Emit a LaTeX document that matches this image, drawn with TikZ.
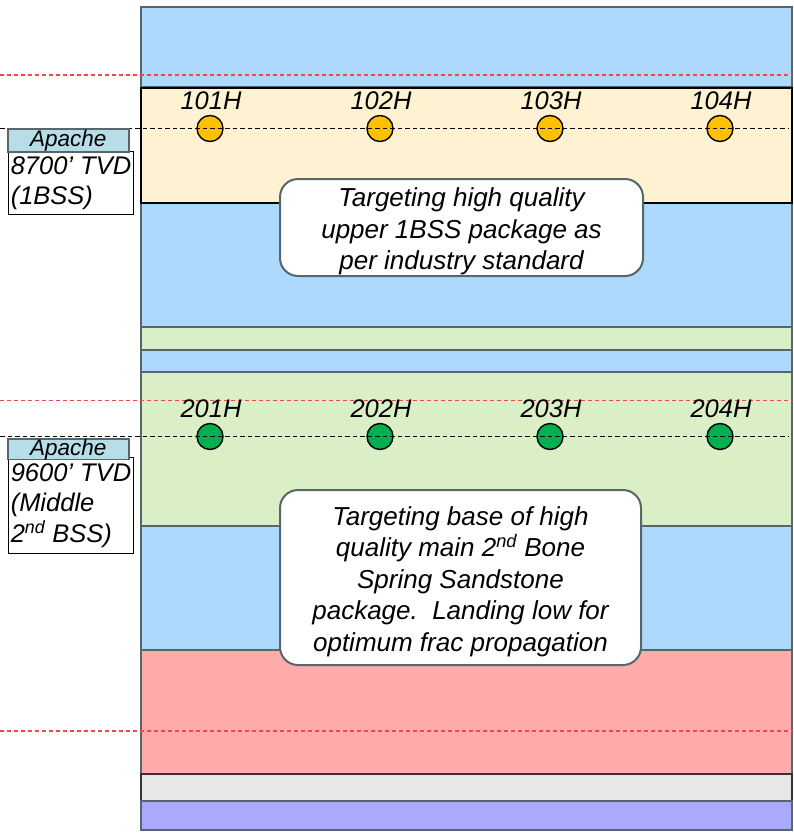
\documentclass[tikz,border=0pt]{standalone}
\usepackage{fontspec}
\setmainfont{Liberation Sans}
\begin{document}
\begin{tikzpicture}[x=1pt,y=-1pt,
  band/.style={draw=bordc, line width=2pt},
  reddash/.style={draw=redd, line width=1.3pt, dash pattern=on 4pt off 3pt},
  blackdash/.style={draw=black, line width=1.2pt, dash pattern=on 4.5pt off 3pt},
  well/.style={circle, draw=black, line width=1.4pt, minimum size=26pt, inner sep=0pt},
  welllabel/.style={font=\fontsize{25.5}{30}\selectfont\itshape, anchor=base, inner sep=0pt},
  apache/.style={draw=bordc, fill=apachec, line width=1.5pt, minimum width=121pt, minimum height=23pt, inner sep=0pt, anchor=north west, font=\fontsize{22.5}{24}\selectfont\itshape},
  tvdbox/.style={draw=black, fill=white, line width=1pt, minimum width=125pt, inner xsep=1pt, inner ysep=0pt, align=left, anchor=north west, font=\fontsize{25.5}{30.5}\selectfont\itshape},
  callout/.style={draw=bordc, fill=white, line width=2pt, rounded corners=18pt, align=center, inner sep=0pt, font=\fontsize{26}{31.6}\selectfont\itshape}
]
\definecolor{bordc}{HTML}{56666B}
\definecolor{redd}{HTML}{F04848}
\definecolor{bluec}{HTML}{ADDAFC}
\definecolor{creamc}{HTML}{FEF2D2}
\definecolor{greenc}{HTML}{DBEFC6}
\definecolor{pinkc}{HTML}{FFABAB}
\definecolor{grayc}{HTML}{E7E7E7}
\definecolor{purplec}{HTML}{AAAAFC}
\definecolor{apachec}{HTML}{B7DEE8}
\definecolor{orangec}{HTML}{FFC000}
\definecolor{greenw}{HTML}{00B050}
\useasboundingbox (0,0) rectangle (793,833);

% bands
\path[band, fill=bluec] (140.5,7) rectangle (792,87);
\path[band, fill=bluec] (140.5,203) rectangle (792,326.5);
\path[band, fill=greenc] (140.5,326.5) rectangle (792,350);
\path[band, fill=bluec] (140.5,350) rectangle (792,372);
\path[band, fill=greenc] (140.5,372) rectangle (792,525.5);
\path[band, fill=bluec] (140.5,525.5) rectangle (792,650);
\path[band, fill=pinkc] (140.5,650) rectangle (792,774);
\path[band, fill=grayc, draw=black!80] (140.5,774) rectangle (792,801);
\path[band, fill=purplec] (140.5,801) rectangle (792,830);
\path[band, fill=creamc, draw=black] (140.5,87.5) rectangle (792,203);

% red reference lines
\coordinate (r1a) at (0,75); \coordinate (r1b) at (793,75);
\coordinate (r2a) at (0,400.5); \coordinate (r2b) at (793,400.5);
\coordinate (r3a) at (0,731); \coordinate (r3b) at (793,731);
\draw[reddash] (r1a) -- (r1b);
\draw[reddash] (r2a) -- (r2b);
\draw[reddash] (r3a) -- (r3b);

% wells row 1
\node[well, fill=orangec] (w101) at (210,128.5) {};
\node[well, fill=orangec] (w102) at (380,128.5) {};
\node[well, fill=orangec] (w103) at (550,128.5) {};
\node[well, fill=orangec] (w104) at (720,128.5) {};
\node[welllabel] (l101) at (211,109) {101H};
\node[welllabel] (l102) at (381,109) {102H};
\node[welllabel] (l103) at (551,109) {103H};
\node[welllabel] (l104) at (721,109) {104H};

% wells row 2
\node[well, fill=greenw] (w201) at (210,436.5) {};
\node[well, fill=greenw] (w202) at (380,436.5) {};
\node[well, fill=greenw] (w203) at (550,436.5) {};
\node[well, fill=greenw] (w204) at (720,436.5) {};
\node[welllabel] (l201) at (211,417) {201H};
\node[welllabel] (l202) at (381,417) {202H};
\node[welllabel] (l203) at (551,417) {203H};
\node[welllabel] (l204) at (721,417) {204H};

% black landing lines
\coordinate (b1a) at (0,128.5); \coordinate (b1b) at (788,128.5);
\coordinate (b2a) at (0,436.5); \coordinate (b2b) at (788,436.5);
\draw[blackdash] (b1a) -- (b1b);
\draw[blackdash] (b2a) -- (b2b);

% left labels
\node[tvdbox, minimum height=63pt] (tvd1) at (8,151) {8700’ TVD\\(1BSS)};
\node[apache] (ap1) at (7,128) {Apache};
\node[tvdbox, minimum height=96pt] (tvd2) at (8,457) {9600’ TVD\\(Middle\\2\textsuperscript{nd} BSS)};
\node[apache, minimum height=19pt] (ap2) at (7,438) {Apache};

% callouts
\node[callout, minimum width=363pt, minimum height=97pt] (c1) at (461.5,227.5)
  {\rule{0pt}{27pt}Targeting high quality\\upper 1BSS package as\\per industry standard};
\node[callout, minimum width=361pt, minimum height=175pt] (c2) at (460.5,577.5)
  {\rule{0pt}{27pt}Targeting base of high\\quality main 2\textsuperscript{nd} Bone\\Spring Sandstone\\package.\ \ Landing low for\\optimum frac propagation};
\end{tikzpicture}
\end{document}
